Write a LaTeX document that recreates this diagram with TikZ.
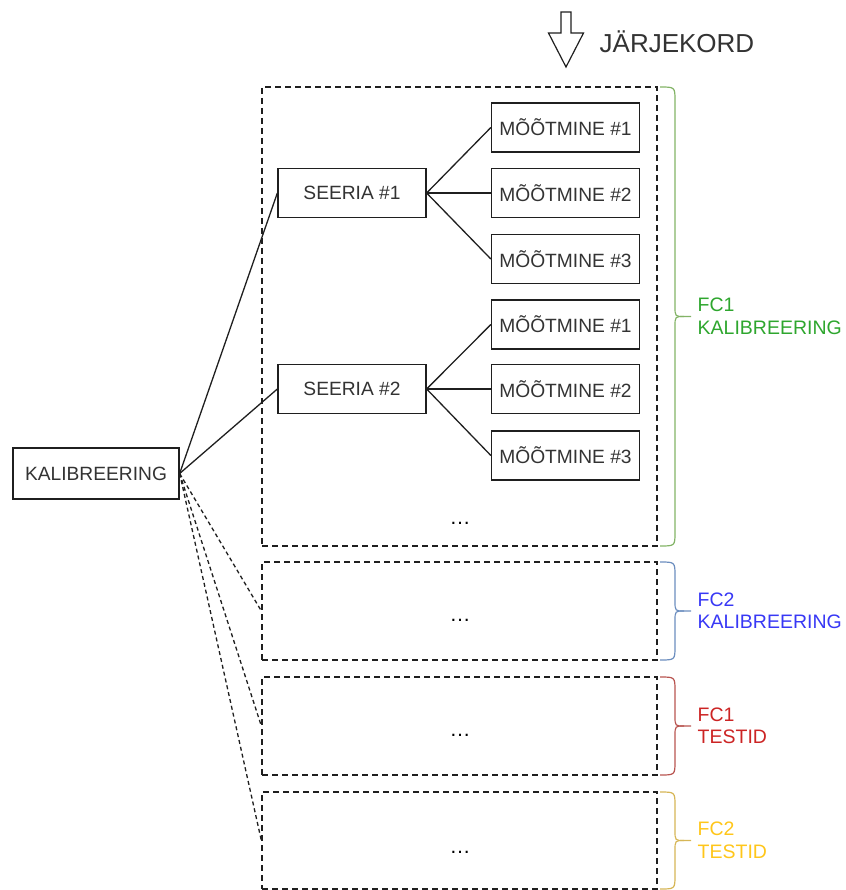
\documentclass[tikz,border=0pt]{standalone}
\usepackage{fontspec}
\setmainfont{Liberation Sans}
\definecolor{ink}{HTML}{333333}
\definecolor{edge}{HTML}{1F1F1F}
\definecolor{brgreen}{HTML}{82B366}
\definecolor{brblue}{HTML}{6C8EBF}
\definecolor{brred}{HTML}{B85450}
\definecolor{bryellow}{HTML}{D6B656}
\definecolor{fcgreen}{HTML}{2EA62E}
\definecolor{fcblue}{HTML}{3838F5}
\definecolor{fcred}{HTML}{CC2424}
\definecolor{fcyellow}{HTML}{FFC61A}
\begin{document}
\begin{tikzpicture}[x=1pt,y=-1pt,line width=1.3pt,
  box/.style={draw=edge,text=ink,minimum width=148pt,minimum height=49pt,inner sep=0pt,font=\fontsize{19.2}{22.5}\selectfont},
  grp/.style={draw=edge,dash pattern=on 6pt off 4pt,minimum width=395pt,inner sep=0pt},
  dots/.style={text=black,inner sep=0pt,font=\fontsize{21}{24}\selectfont},
  link/.style={draw=edge},
  lazylink/.style={draw=edge,dash pattern=on 4pt off 3pt},
  fclabel/.style={anchor=west,align=left,inner sep=0pt,font=\fontsize{19.5}{22.5}\selectfont}]
  \useasboundingbox (0,0) rectangle (845,890);

  \node[box,minimum width=166pt,minimum height=51pt] (kal) at (96,473.5) {KALIBREERING};
  \node[box] (s1) at (352,193) {SEERIA \#1};
  \node[box] (s2) at (352,389) {SEERIA \#2};
  \foreach \s/\y in {1/127.5,2/193,3/259}
    \node[box] (m1\s) at (565.5,\y) {MÕÕTMINE \#\s};
  \foreach \s/\y in {1/324.5,2/389,3/455.5}
    \node[box] (m2\s) at (565.5,\y) {MÕÕTMINE \#\s};

  \node[grp,minimum height=459pt] (g1) at (459.5,316.5) {};
  \node[grp,minimum height=98pt] (g2) at (459.5,611) {};
  \node[grp,minimum height=98pt] (g3) at (459.5,726) {};
  \node[grp,minimum height=97pt] (g4) at (459.5,840.5) {};
  \foreach \g/\y in {1/523,2/620,3/735,4/852}
    \node[dots] (d\g) at (460,\y) {…};

  \foreach \g in {1,2} {
    \draw[link] (kal.east) -- (s\g.west);
    \foreach \s in {1,2,3}
      \draw[link] (s\g.east) -- (m\g\s.west);
  }
  \foreach \g in {2,3,4}
    \draw[lazylink] (kal.east) -- (g\g.west);

  \draw[edge,line width=1.2pt] (561,12) -- (571,12) -- (571,33) -- (583.5,33)
    -- (566,67) -- (548.5,33) -- (561,33) -- cycle;
  \node[anchor=west,text=ink,inner sep=0pt,font=\fontsize{26}{30}\selectfont] (order) at (599,42) {JÄRJEKORD};

  \foreach \ya/\ym/\yb/\bc/\tc/\lab [count=\n] in {
      87/316.5/546/brgreen/fcgreen/{FC1\\KALIBREERING},
      562/611/660/brblue/fcblue/{FC2\\KALIBREERING},
      677/726/775/brred/fcred/{FC1\\TESTID},
      792/840.5/889/bryellow/fcyellow/{FC2\\TESTID}} {
    \draw[\bc,line width=1.2pt] (660,\ya) .. controls (675,\ya) .. (675,\ya+14)
      -- (675,\ym-10) .. controls (675,\ym) .. (684,\ym) -- (691,\ym);
    \draw[\bc,line width=1.2pt] (684,\ym) .. controls (675,\ym) .. (675,\ym+10)
      -- (675,\yb-14) .. controls (675,\yb) .. (660,\yb);
    \node[fclabel,text=\tc] (fc\n) at (697,\ym) {\lab};
  }
\end{tikzpicture}
\end{document}
